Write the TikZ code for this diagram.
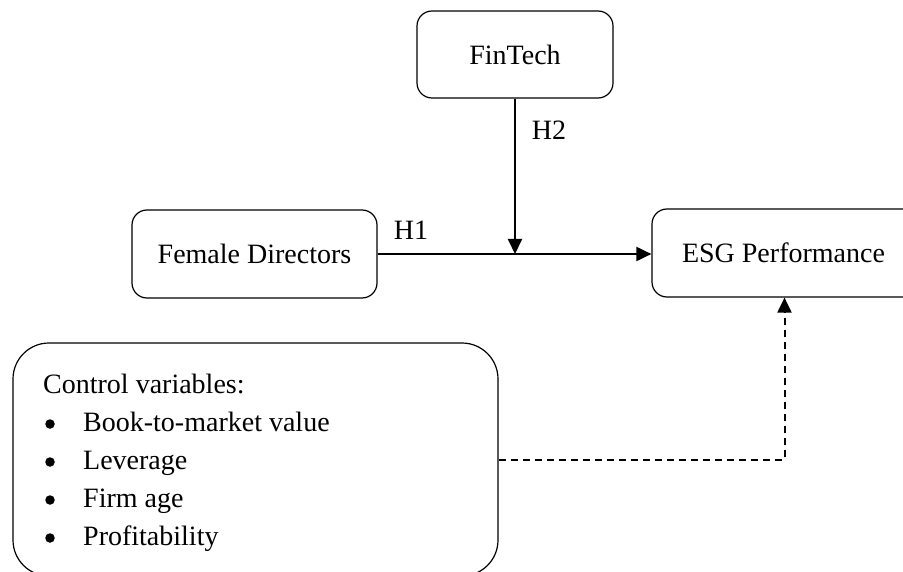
\documentclass[tikz,border=0pt]{standalone}
\usepackage{fontspec}
\setmainfont{Liberation Serif}
\usetikzlibrary{arrows.meta}
\begin{document}
\begin{tikzpicture}[x=1pt,y=-1pt,
  every node/.style={font=\fontsize{28}{38}\selectfont},
  box/.style={draw, line width=1.2pt, rounded corners=15pt, inner sep=0pt},
  ctrlbox/.style={draw, line width=1.2pt, rounded corners=36pt, inner sep=0pt, minimum width=485pt, minimum height=233pt},
  arr/.style={line width=2pt, -{Triangle[length=15pt,width=14pt]}},
  darr/.style={line width=2pt, dash pattern=on 7pt off 5pt, -{Triangle[length=15pt,width=14pt]}},
  lbl/.style={inner sep=0pt},
  bul/.style={circle, fill, inner sep=0pt, minimum size=9.5pt}
]
\useasboundingbox (0,0) rectangle (903,572);
\clip (0,0) rectangle (903,572);
\node[box, minimum width=196pt, minimum height=87pt] (fin) at (515,54.5) {FinTech};
\node[box, minimum width=245pt, minimum height=88pt] (fem) at (254.5,254) {Female Directors};
\node[box, minimum width=265pt, minimum height=88pt] (esg) at (784.5,253) {\hspace{-2pt}ESG Performance};
\node[ctrlbox] (ctrl) at (255.5,459.5) {};
\node[lbl, anchor=base west] (cv) at (43,393) {Control variables:};
\foreach \t/\yy [count=\i] in {Book-to-market value/431, Leverage/469, Firm age/507, Profitability/545}{
  \node[bul] (b\i) at (50,\yy-7) {};
  \node[lbl, anchor=base west] (it\i) at (83,\yy) {\t};
}
\node[lbl] (h1) at (411,230) {H1};
\node[lbl] (h2) at (549,130) {H2};
\coordinate (mid) at (fin.south |- fem.east);
\draw[arr] (fem.east) -- (fem.east -| esg.west);
\draw[arr] (fin.south) -- (mid);
\draw[darr] (ctrl.east) -| (esg.south);
\end{tikzpicture}
\end{document}
